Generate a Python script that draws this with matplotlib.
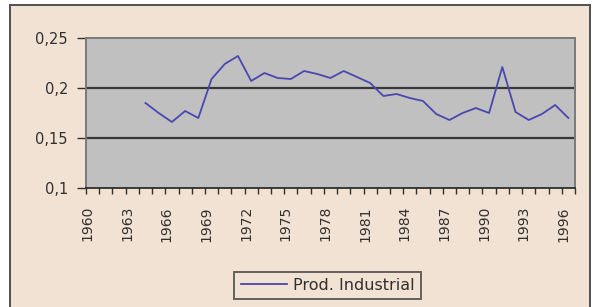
import matplotlib
matplotlib.use("Agg")
import matplotlib.pyplot as plt
import matplotlib.transforms as mtransforms
from matplotlib.patches import Rectangle
import numpy as np

# ---- data ----
years = list(range(1960, 1997))
data_years = list(range(1964, 1997))
prod_industrial = [0.185, 0.175, 0.166, 0.177, 0.170, 0.209, 0.224, 0.232,
                   0.207, 0.215, 0.210, 0.209, 0.217, 0.214, 0.210, 0.217,
                   0.211, 0.205, 0.192, 0.194, 0.190, 0.187, 0.174, 0.168,
                   0.175, 0.180, 0.175, 0.221, 0.176, 0.168, 0.174, 0.183,
                   0.170]
label_years = list(range(1960, 1997, 3))
y_ticks = [0.1, 0.15, 0.2, 0.25]
y_labels = ["0,1", "0,15", "0,2", "0,25"]
series_name = "Prod. Industrial"

W, H = 594, 307
fig = plt.figure(figsize=(W / 100, H / 100), dpi=100)
fig.patch.set_facecolor("white")

# outer chart border (beige area)
bg = Rectangle((10 / W, -0.05), (590 - 10) / W, 1.05 - 5 / H,
               transform=fig.transFigure, facecolor="#f2e2d3",
               edgecolor="#505050", linewidth=1.4, zorder=-10)
fig.patches.append(bg)

left, right, top, bottom = 86, 575, 38, 188
ax = fig.add_axes([left / W, 1 - bottom / H, (right - left) / W, (bottom - top) / H])
ax.set_zorder(5)
ax.set_facecolor("#c0c0c0")

xpos = [years.index(y) for y in data_years]
ax.plot(xpos, prod_industrial, color="#4848b0", linewidth=1.3, label=series_name, zorder=3)

ax.set_xlim(-0.5, len(years) - 0.5)
ax.set_ylim(0.1, 0.25)

# gridlines
for v in [0.15, 0.2]:
    ax.axhline(v, color="#383838", linewidth=1.6, zorder=2)

ax.set_yticks(y_ticks)
ax.set_yticklabels(y_labels)
ax.tick_params(axis="y", length=6.5, width=1, color="#303030", pad=6.5,
               labelsize=10.5, labelcolor="#303030")

# x: ticks at category boundaries, labels at centers
bounds = np.arange(-0.5, len(years), 1.0)
ax.set_xticks(bounds)
ax.set_xticklabels([])
ax.tick_params(axis="x", which="major", length=4.5, width=1, color="#303030")
centers = [years.index(y) for y in label_years]
ax.set_xticks(centers, minor=True)
ax.set_xticklabels([str(y) for y in label_years], minor=True, rotation=90,
                   fontsize=10, color="#303030")
ax.tick_params(axis="x", which="minor", length=0, pad=13)
offset = mtransforms.ScaledTranslation(-5 / 100, 0, fig.dpi_scale_trans)
for lbl in ax.get_xticklabels(minor=True):
    lbl.set_transform(lbl.get_transform() + offset)

for side in ["left", "top", "right"]:
    ax.spines[side].set_color("#7a7a7a")
    ax.spines[side].set_linewidth(1.4)
ax.spines["bottom"].set_color("#202020")
ax.spines["bottom"].set_linewidth(1.2)

leg = fig.legend(loc="center", bbox_to_anchor=((229 + 426) / 2 / W, 1 - 285.5 / H),
                 frameon=True, fancybox=False, fontsize=11.5, handlelength=2.9,
                 handletextpad=0.35, borderpad=0.4, borderaxespad=0)
leg.set_zorder(6)
leg.get_frame().set_edgecolor("#404040")
leg.get_frame().set_linewidth(1.4)
leg.get_frame().set_facecolor("#f2e2d3")
for t in leg.get_texts():
    t.set_color("#303030")

fig.savefig("out.png", dpi=100)
